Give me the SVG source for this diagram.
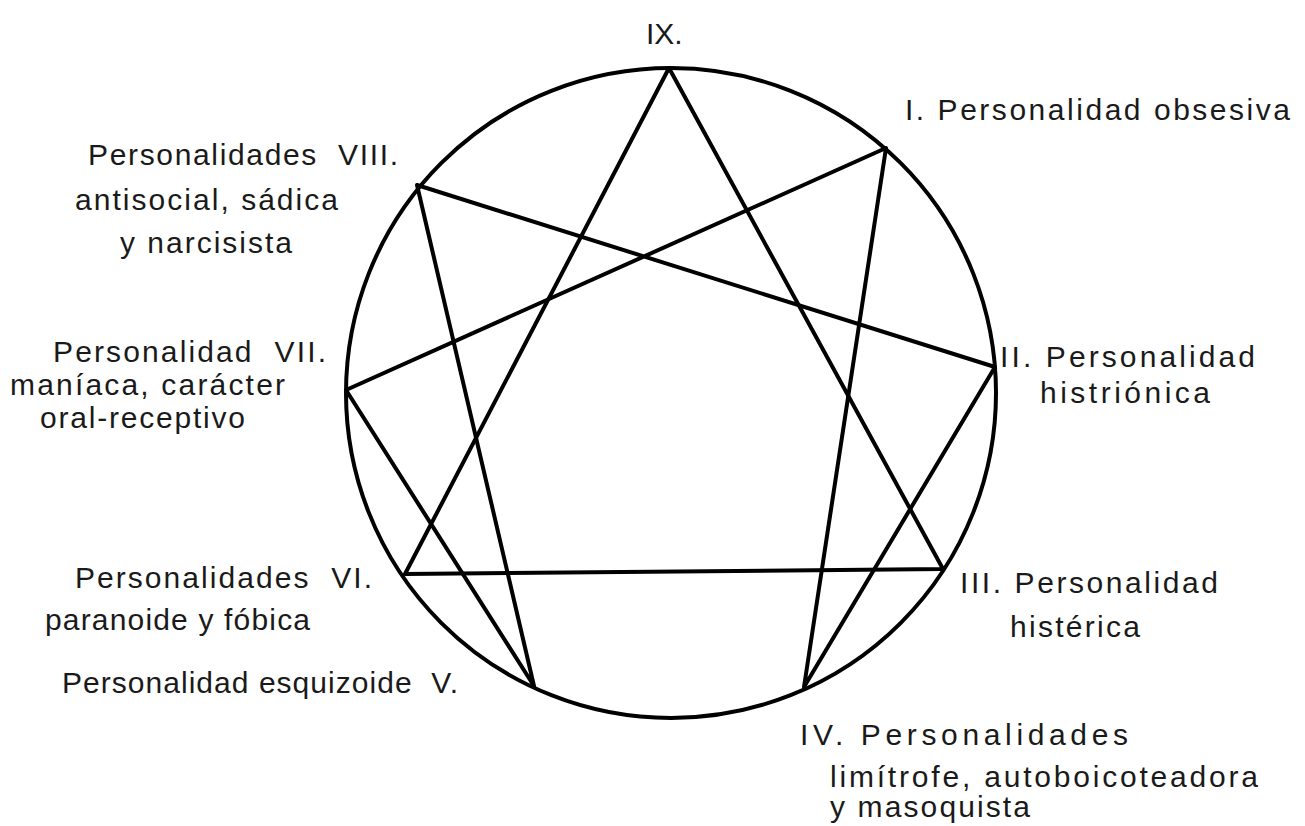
<svg xmlns="http://www.w3.org/2000/svg" width="1305" height="826" viewBox="0 0 1305 826">
<style>
.ln{stroke:#000;stroke-width:4;fill:none;stroke-linecap:round;stroke-linejoin:round}
.t{font-family:"Liberation Sans",Arial,Helvetica,sans-serif;font-size:30px;fill:#1a1a1a}
</style>
<rect width="1305" height="826" fill="#fff"/>
<g id="circle"><circle class="ln" cx="671" cy="393" r="325"/></g>
<g id="connectors">
<path class="ln" d="M669,68 L943,569 L405,574 Z"/>
<path class="ln" d="M886,148 L804,687 L995,367 L417,185 L534,686 L346,390 Z"/>
</g>
<g id="n9"><text class="t" x="646" y="44">IX.</text></g>
<g id="n1"><text class="t" x="905" y="120" textLength="385" lengthAdjust="spacing">I. Personalidad obsesiva</text></g>
<g id="n8">
<text class="t" x="88" y="165" textLength="310" lengthAdjust="spacing" xml:space="preserve">Personalidades  VIII.</text>
<text class="t" x="75" y="210" textLength="263" lengthAdjust="spacing">antisocial, sádica</text>
<text class="t" x="120" y="253" textLength="172" lengthAdjust="spacing">y narcisista</text>
</g>
<g id="n7">
<text class="t" x="53" y="362" textLength="273" lengthAdjust="spacing" xml:space="preserve">Personalidad  VII.</text>
<text class="t" x="10" y="395" textLength="275" lengthAdjust="spacing">maníaca, carácter</text>
<text class="t" x="40" y="428" textLength="205" lengthAdjust="spacing">oral-receptivo</text>
</g>
<g id="n6">
<text class="t" x="75" y="588" textLength="297" lengthAdjust="spacing" xml:space="preserve">Personalidades  VI.</text>
<text class="t" x="45" y="630" textLength="265" lengthAdjust="spacing">paranoide y fóbica</text>
</g>
<g id="n5"><text class="t" x="62" y="693" textLength="396" lengthAdjust="spacing" xml:space="preserve">Personalidad esquizoide  V.</text></g>
<g id="n2">
<text class="t" x="1000" y="367" textLength="255" lengthAdjust="spacing">II. Personalidad</text>
<text class="t" x="1040" y="403" textLength="170" lengthAdjust="spacing">histriónica</text>
</g>
<g id="n3">
<text class="t" x="960" y="593" textLength="258" lengthAdjust="spacing">III. Personalidad</text>
<text class="t" x="1010" y="637" textLength="130" lengthAdjust="spacing">histérica</text>
</g>
<g id="n4">
<text class="t" x="800" y="745" textLength="328" lengthAdjust="spacing">IV. Personalidades</text>
<text class="t" x="830" y="787" textLength="428" lengthAdjust="spacing">limítrofe, autoboicoteadora</text>
<text class="t" x="830" y="817" textLength="200" lengthAdjust="spacing">y masoquista</text>
</g>
</svg>
